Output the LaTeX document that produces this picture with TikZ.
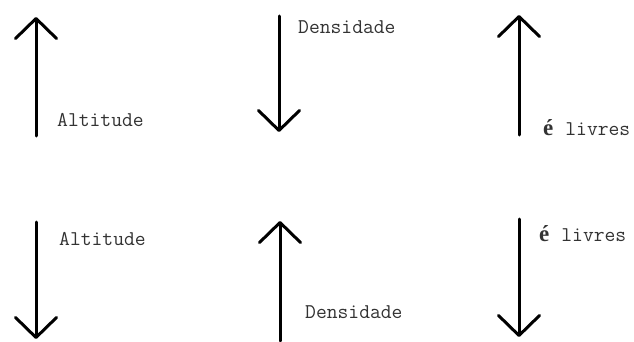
\documentclass[tikz,border=0pt]{standalone}
\usepackage{fontspec}
\newfontfamily\eacute{Liberation Serif}
\usetikzlibrary{arrows.meta}
\begin{document}
\begin{tikzpicture}[x=1pt,y=-1pt,
  arr/.style={line width=3pt,line cap=round,-{Straight Barb[round,length=20pt,width=41pt,line width=3pt]}},
  lbl/.style={anchor=west,inner sep=0pt,font=\ttfamily\fontsize{21}{24}\selectfont,text=black!80}]
\useasboundingbox (0,0) rectangle (634,342);
% row 1
\coordinate (a1s) at (36,136); \coordinate (a1e) at (36,17);
\coordinate (a2s) at (279,16); \coordinate (a2e) at (279,132);
\coordinate (a3s) at (519,135); \coordinate (a3e) at (519,15);
% row 2
\coordinate (a4s) at (36,222); \coordinate (a4e) at (36,339);
\coordinate (a5s) at (280,341); \coordinate (a5e) at (280,221);
\coordinate (a6s) at (519,219); \coordinate (a6e) at (519,337);
\draw[arr] (a1s) -- (a1e);
\draw[arr] (a2s) -- (a2e);
\draw[arr] (a3s) -- (a3e);
\draw[arr] (a4s) -- (a4e);
\draw[arr] (a5s) -- (a5e);
\draw[arr] (a6s) -- (a6e);
\node[lbl] (l1) at (57,120) {Altitude};
\node[lbl] (l2) at (298,27) {Densidade};
\node[lbl] (l3) at (543,128) {{\eacute\bfseries\fontsize{23}{24}\selectfont é}\hspace{12pt}livres};
\node[lbl] (l4) at (59,239) {Altitude};
\node[lbl] (l5) at (305,312) {Densidade};
\node[lbl] (l6) at (539,234) {{\eacute\bfseries\fontsize{23}{24}\selectfont é}\hspace{12pt}livres};
\end{tikzpicture}
\end{document}
